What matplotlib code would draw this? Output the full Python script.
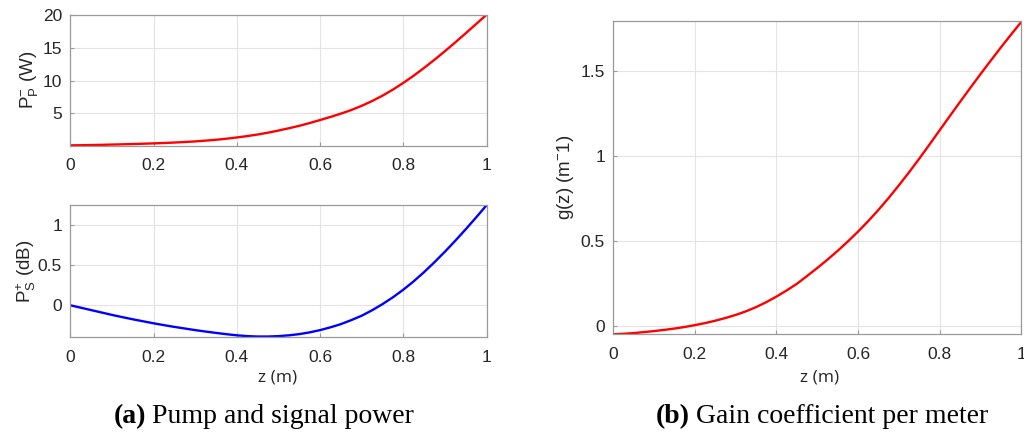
import numpy as np
import matplotlib
matplotlib.use("Agg")
import matplotlib.pyplot as plt

z = [0.0, 0.025, 0.05, 0.075, 0.1, 0.125, 0.15, 0.175, 0.2, 0.225, 0.25,
     0.275, 0.3, 0.325, 0.35, 0.375, 0.4, 0.425, 0.45, 0.475, 0.5,
     0.525, 0.55, 0.575, 0.6, 0.625, 0.65, 0.675, 0.7, 0.725, 0.75,
     0.775, 0.8, 0.825, 0.85, 0.875, 0.9, 0.925, 0.95, 0.975, 1.0]
pump_W = [0.15, 0.17, 0.2, 0.23, 0.27, 0.31, 0.35, 0.4, 0.45, 0.51, 0.58,
          0.66, 0.75, 0.87, 1.0, 1.16, 1.35, 1.56, 1.8, 2.08, 2.4,
          2.75, 3.12, 3.54, 4.0, 4.47, 4.97, 5.52, 6.16, 6.88, 7.70,
          8.62, 9.64, 10.74, 11.92, 13.16, 14.46, 15.80, 17.18, 18.58, 20.0]
signal_dB = [0.0, -0.03, -0.06, -0.09, -0.12, -0.148, -0.175, -0.2, -0.225, -0.248, -0.27,
             -0.29, -0.31, -0.328, -0.345, -0.361, -0.375, -0.385, -0.39, -0.39, -0.385,
             -0.375, -0.36, -0.338, -0.31, -0.275, -0.235, -0.185, -0.13, -0.062, 0.015,
             0.1, 0.195, 0.3, 0.415, 0.539, 0.67, 0.807, 0.95, 1.098, 1.25]
gain = [-0.047, -0.044, -0.04, -0.034, -0.028, -0.021, -0.013, -0.004, 0.007, 0.019, 0.033,
        0.049, 0.067, 0.088, 0.113, 0.142, 0.175, 0.211, 0.25, 0.296, 0.343,
        0.392, 0.444, 0.499, 0.557, 0.619, 0.685, 0.755, 0.829, 0.906, 0.986,
        1.069, 1.153, 1.237, 1.32, 1.402, 1.483, 1.562, 1.64, 1.716, 1.79]

xticks = [0, 0.2, 0.4, 0.6, 0.8, 1]
xticklabels = ["0", "0.2", "0.4", "0.6", "0.8", "1"]

plt.rcParams['font.family'] = ['Liberation Sans', 'DejaVu Sans']
plt.rcParams['mathtext.default'] = 'regular'

fig = plt.figure(figsize=(10.24, 4.34), dpi=100)

edge = '#9a9a9a'
tick_fs = 12.5
label_fs = 13.5
txt = '#262626'

def style(ax, yticks, ylabels, ylim):
    ax.set_xlim(0, 1)
    ax.set_ylim(*ylim)
    ax.set_xticks(xticks)
    ax.set_xticklabels(xticklabels)
    ax.set_yticks(yticks)
    ax.set_yticklabels(ylabels)
    ax.grid(True, color='#e3e3e3', linewidth=0.8)
    ax.set_axisbelow(True)
    for s in ax.spines.values():
        s.set_color(edge)
        s.set_linewidth(0.9)
    ax.tick_params(direction='in', length=3, width=0.8, color=edge,
                   labelsize=tick_fs, labelcolor=txt,
                   top=False, right=False)
    ax.tick_params(axis='x', pad=9)
    ax.tick_params(axis='y', pad=6)

ax1 = fig.add_axes([0.0688, 0.6643, 0.4063, 0.3018])
ax1.plot(z, pump_W, color='#ff0000', lw=1.7)
style(ax1, [5, 10, 15, 20], ["5", "10", "15", "20"], (0.1, 20))
ax1.set_ylabel('P$_{P}^{-}$ (W)', fontsize=label_fs, color=txt, labelpad=2)

ax2 = fig.add_axes([0.0688, 0.2235, 0.4063, 0.3035])
ax2.plot(z, signal_dB, color='#0000ff', lw=1.7)
style(ax2, [0, 0.5, 1], ["0", "0.5", "1"], (-0.396, 1.25))
ax2.set_ylabel('P$_{S}^{+}$ (dB)', fontsize=label_fs, color=txt, labelpad=0)

ax3 = fig.add_axes([0.5989, 0.2297, 0.3984, 0.7212])
ax3.plot(z, gain, color='#ff0000', lw=1.7)
style(ax3, [0, 0.5, 1, 1.5], ["0", "0.5", "1", "1.5"], (-0.047, 1.794))
ax3.set_ylabel('g(z) (m$^{-}$1)', fontsize=label_fs, color=txt, labelpad=3)

fig.text(278 / 1024, 1 - 377 / 434, 'z (m)', ha='center', va='center',
         fontsize=12.5, color=txt, family=['Open Sans', 'DejaVu Sans'])
fig.text(820 / 1024, 1 - 377 / 434, 'z (m)', ha='center', va='center',
         fontsize=12.5, color=txt, family=['Open Sans', 'DejaVu Sans'])

def caption(cx, base_y, bold, rest):
    t1 = fig.text(0, base_y, bold, ha='left', va='baseline', fontsize=20,
                  fontweight='bold', family=['Liberation Serif'])
    t2 = fig.text(0, base_y, rest, ha='left', va='baseline', fontsize=20,
                  family=['Liberation Serif'])
    fig.canvas.draw()
    r = fig.canvas.get_renderer()
    w1 = t1.get_window_extent(r).width / fig.bbox.width
    w2 = t2.get_window_extent(r).width / fig.bbox.width
    gap = 6 / 1024
    total = w1 + gap + w2
    x0 = cx - total / 2
    t1.set_x(x0)
    t2.set_x(x0 + w1 + gap)

caption(264 / 1024, 1 - 423 / 434, '(a)', 'Pump and signal power')
caption(822 / 1024, 1 - 423 / 434, '(b)', 'Gain coefficient per meter')

fig.savefig('out.png', dpi=100)
